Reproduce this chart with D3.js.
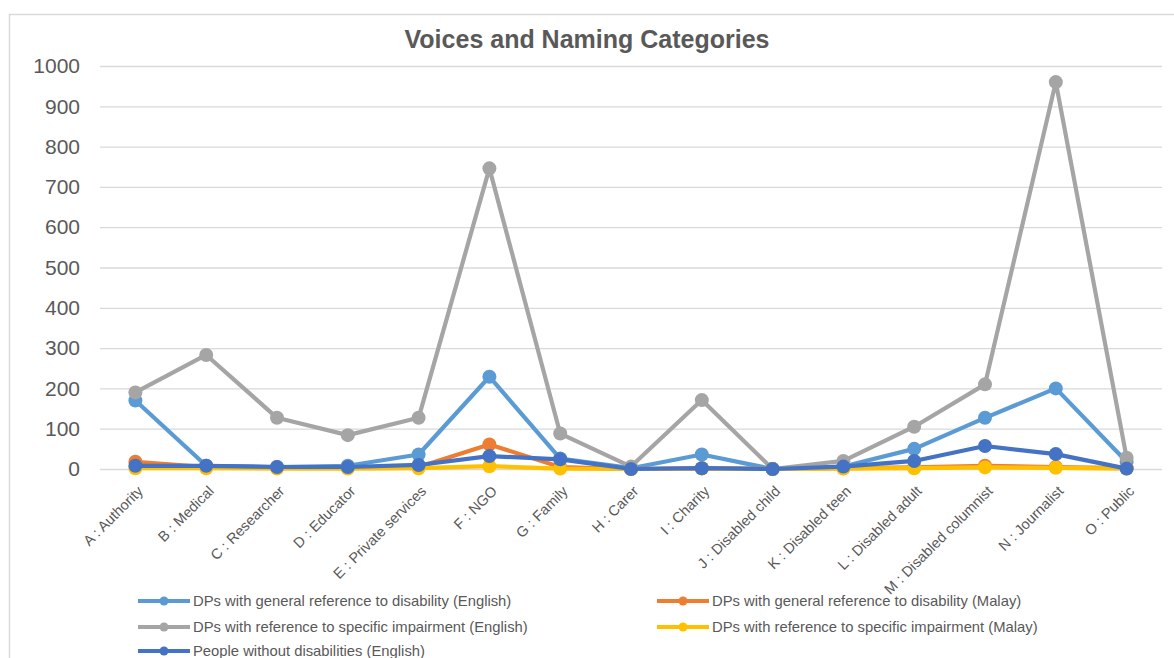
<!DOCTYPE html>
<html><head><meta charset="utf-8">
<script src="https://cdn.jsdelivr.net/npm/d3@7"></script>
<style>body{margin:0;background:#fff}svg{display:block}text{font-family:"Liberation Sans",Arial,sans-serif}</style>
</head><body>
<svg id="c" width="1174" height="658"></svg>
<script>
const categories = ["A : Authority","B : Medical","C : Researcher","D : Educator","E : Private services","F : NGO","G : Family","H : Carer","I : Charity","J : Disabled child","K : Disabled teen","L : Disabled adult","M : Disabled columnist","N : Journalist","O : Public"];
const seriesNames = ["DPs with general reference to disability (English)","DPs with general reference to disability (Malay)","DPs with reference to specific impairment (English)","DPs with reference to specific impairment (Malay)","People without disabilities (English)"];
const generalEnglish  = [170, 8, 5, 8, 36, 229, 26, 2, 36, 0, 6, 50, 127, 200, 18];
const generalMalay    = [18, 5, 3, 3, 5, 61, 5, 0, 2, 0, 2, 4, 8, 5, 2];
const specificEnglish = [190, 283, 127, 84, 127, 746, 88, 6, 171, 0, 20, 105, 210, 960, 28];
const specificMalay   = [2, 2, 1, 1, 2, 7, 1, 0, 1, 0, 1, 2, 4, 3, 1];
const peopleWithout   = [8, 8, 5, 5, 10, 32, 24, 0, 2, 0, 6, 20, 57, 37, 1];
const yTicks = [0,100,200,300,400,500,600,700,800,900,1000];
const colors = ["#5B9BD5","#ED7D31","#A5A5A5","#FFC000","#4472C4"];
const seriesData = [generalEnglish, generalMalay, specificEnglish, specificMalay, peopleWithout];

const svg = d3.select("#c");
svg.append("rect").attr("x",9.5).attr("y",14.5).attr("width",1180).attr("height",660)
  .attr("fill","#fff").attr("stroke","#d9d9d9").attr("stroke-width",1.5);

const x = d3.scalePoint().domain(categories).range([135.4, 1126.6]);
const y = d3.scaleLinear().domain([0,1000]).range([469, 66]);

svg.append("text").attr("x",587).attr("y",48).attr("text-anchor","middle")
  .attr("font-size",25).attr("font-weight","bold").attr("fill","#595959")
  .text("Voices and Naming Categories");

// grid
const gAxisY = svg.append("g").attr("transform","translate(100,0)")
  .call(d3.axisLeft(y).tickValues(yTicks).tickSize(-1062).tickPadding(20).tickFormat(d3.format("d")));
gAxisY.select(".domain").remove();
gAxisY.selectAll(".tick line").attr("stroke","#d9d9d9").attr("stroke-width",1.3);
gAxisY.selectAll(".tick text").attr("font-size",21).attr("fill","#595959")
  .attr("font-family","'Liberation Sans',Arial,sans-serif");

// x axis labels
const gAxisX = svg.append("g").attr("transform","translate(0,469)")
  .call(d3.axisBottom(x).tickSize(0).tickPadding(0));
gAxisX.select(".domain").remove();
gAxisX.selectAll(".tick text").attr("font-size",14.5).attr("fill","#595959")
  .attr("font-family","'Liberation Sans',Arial,sans-serif")
  .attr("text-anchor","end").attr("dy",0)
  .attr("transform","translate(8,23) rotate(-45)");

const line = d3.line().x((d,i)=>x(categories[i])).y(d=>y(d));
seriesData.forEach((s,k)=>{
  svg.append("path").datum(s).attr("d",line).attr("fill","none")
    .attr("stroke",colors[k]).attr("stroke-width",4.2).attr("stroke-linejoin","round");
  svg.append("g").selectAll("circle").data(s).join("circle")
    .attr("cx",(d,i)=>x(categories[i])).attr("cy",d=>y(d)).attr("r",7).attr("fill",colors[k]);
});

// legend
const legendPos = [[138,601],[657,601],[138,627],[657,627],[138,651]];
seriesNames.forEach((n,k)=>{
  const [lx,ly] = legendPos[k];
  const g = svg.append("g");
  g.append("line").attr("x1",lx).attr("x2",lx+52).attr("y1",ly).attr("y2",ly)
    .attr("stroke",colors[k]).attr("stroke-width",4);
  g.append("circle").attr("cx",lx+26).attr("cy",ly).attr("r",4.5).attr("fill",colors[k]);
  g.append("text").attr("x",lx+55).attr("y",ly+5).attr("font-size",14.8).attr("fill","#595959").text(n);
});
</script>
</body></html>
